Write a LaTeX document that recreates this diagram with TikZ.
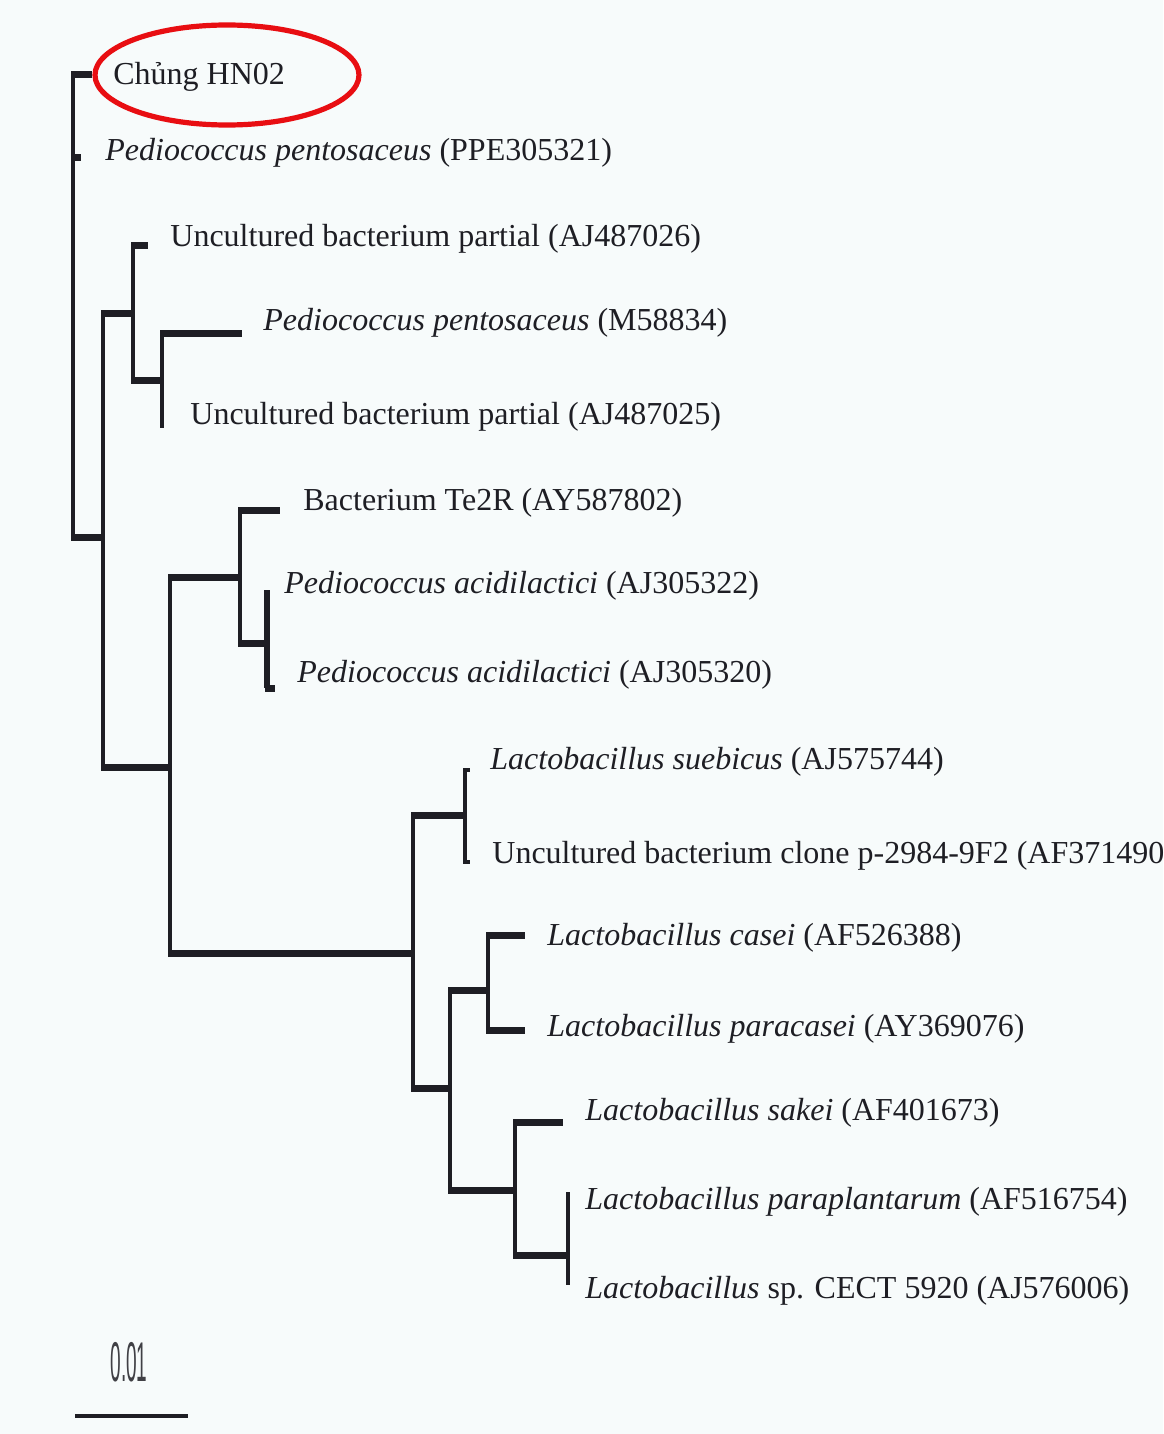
\documentclass[tikz,border=0pt]{standalone}
\usepackage{fontspec}
\setmainfont{Liberation Serif}
\setsansfont{Liberation Sans}
\usetikzlibrary{shapes.geometric}
\definecolor{bg}{RGB}{247,251,251}
\definecolor{ink}{RGB}{30,30,36}
\definecolor{hlred}{RGB}{232,14,18}
\begin{document}
\begin{tikzpicture}[x=0.5pt,y=-0.5pt,
  hbr/.style={ink,line width=3.5pt,shorten <=-1pt},
  vbr/.style={ink,line width=2pt},
  tip/.style={ink,line width=2pt,shorten <=-1pt},
  lab/.style={anchor=base west,inner sep=0pt,text=ink,font=\fontsize{16}{19}\selectfont}]
\fill[bg] (0,0) rectangle (1163,1434);
\useasboundingbox (0,0) rectangle (1163,1434);
% internal nodes
\coordinate (n0) at (73,306);
\coordinate (nA) at (103,537);
\coordinate (nB) at (133,313);
\coordinate (nC) at (162,380);
\coordinate (nD) at (170,767);
\coordinate (nE) at (240,577);
\coordinate (nG) at (267,643);
\coordinate (nF) at (413,953);
\coordinate (nH) at (465,815);
\coordinate (nI) at (450,1088);
\coordinate (nJ) at (488,990);
\coordinate (nK) at (515,1190);
\coordinate (nL) at (568,1255);
% branch tips
\coordinate (tHN) at (92,75);
\coordinate (tPP) at (81,157);
\coordinate (t26) at (148,245);
\coordinate (tM5) at (242,333);
\coordinate (t25) at (162,428);
\coordinate (tTe) at (280,510);
\coordinate (t22) at (267,590);
\coordinate (t20) at (275,688);
\coordinate (tSu) at (470,770);
\coordinate (tCl) at (470,862);
\coordinate (tCa) at (525,935);
\coordinate (tPa) at (525,1030);
\coordinate (tSa) at (563,1122);
\coordinate (tPl) at (568,1192);
\coordinate (tSp) at (568,1285);
% verticals
\draw[vbr] (n0 |- tHN) -- (n0 |- nA);
\draw[vbr] (nA |- nB) -- (nA |- nD);
\draw[vbr] (nB |- t26) -- (nB |- nC);
\draw[vbr] (nC |- tM5) -- (t25);
\draw[vbr] (nD |- nE) -- (nD |- nF);
\draw[vbr] (nE |- tTe) -- (nE |- nG);
\draw[vbr,line width=2.6pt] (t22) -- (nG |- t20);
\draw[vbr] (nF |- nH) -- (nF |- nI);
\draw[vbr] (nH |- tSu) -- (nH |- tCl);
\draw[vbr] (nI |- nJ) -- (nI |- nK);
\draw[vbr] (nJ |- tCa) -- (nJ |- tPa);
\draw[vbr] (nK |- tSa) -- (nK |- nL);
\draw[vbr] (tPl) -- (tSp);
% horizontals
\draw[hbr] (n0 |- tHN) -- (tHN);
\draw[hbr] (n0 |- tPP) -- (tPP);
\draw[hbr] (n0 |- nA) -- (nA);
\draw[hbr] (nA |- nB) -- (nB);
\draw[hbr] (nB |- t26) -- (t26);
\draw[hbr] (nB |- nC) -- (nC);
\draw[hbr] (nC |- tM5) -- (tM5);
\draw[hbr] (nA |- nD) -- (nD);
\draw[hbr] (nD |- nE) -- (nE);
\draw[hbr] (nE |- tTe) -- (tTe);
\draw[hbr] (nE |- nG) -- (nG);
\draw[hbr] (nG |- t20) -- (t20);
\draw[hbr] (nD |- nF) -- (nF);
\draw[hbr] (nF |- nH) -- (nH);
\draw[tip] (nH |- tSu) -- (tSu);
\draw[tip] (nH |- tCl) -- (tCl);
\draw[hbr] (nF |- nI) -- (nI);
\draw[hbr] (nI |- nJ) -- (nJ);
\draw[hbr] (nJ |- tCa) -- (tCa);
\draw[hbr] (nJ |- tPa) -- (tPa);
\draw[hbr] (nI |- nK) -- (nK);
\draw[hbr] (nK |- tSa) -- (tSa);
\draw[hbr] (nK |- nL) -- (nL);
% labels
\node[lab] (lHN) at (113,85) {Chủng HN02};
\node[lab] (lPP) at (105,160) {\textit{Pediococcus pentosaceus} (PPE305321)};
\node[lab] (l26) at (170,246) {Uncultured bacterium partial (AJ487026)};
\node[lab] (lM5) at (263,330) {\textit{Pediococcus pentosaceus} (M58834)};
\node[lab] (l25) at (190,424) {Uncultured bacterium partial (AJ487025)};
\node[lab] (lTe) at (303,510) {Bacterium Te2R (AY587802)};
\node[lab] (l22) at (284,593) {\textit{Pediococcus acidilactici} (AJ305322)};
\node[lab] (l20) at (297,682) {\textit{Pediococcus acidilactici} (AJ305320)};
\node[lab] (lSu) at (490,769) {\textit{Lactobacillus suebicus} (AJ575744)};
\node[lab] (lCl) at (492,863) {Uncultured bacterium clone p-2984-9F2 (AF371490};
\node[lab] (lCa) at (547,945) {\textit{Lactobacillus casei} (AF526388)};
\node[lab] (lPa) at (547,1036) {\textit{Lactobacillus paracasei} (AY369076)};
\node[lab] (lSa) at (585,1120) {\textit{Lactobacillus sakei} (AF401673)};
\node[lab] (lPl) at (585,1209) {\textit{Lactobacillus paraplantarum} (AF516754)};
\node[lab] (lSp) at (585,1298) {\textit{Lactobacillus} sp. CECT 5920 (AJ576006)};
% highlight ring
\node[ellipse,draw=hlred,line width=2.6pt,minimum width=132pt,minimum height=50pt,inner sep=0pt] (ring) at (227,75) {};
% scale bar
\coordinate (sbL) at (75,1416);
\coordinate (sbR) at (188,1416);
\draw[ink,line width=2pt] (sbL) -- (sbR);
\node[inner sep=0pt,text=ink!85,font=\sffamily\fontsize{14}{14}\selectfont] (sbT) at (129,1362) {\scalebox{0.68}[2.0]{0.01}};
\end{tikzpicture}
\end{document}
